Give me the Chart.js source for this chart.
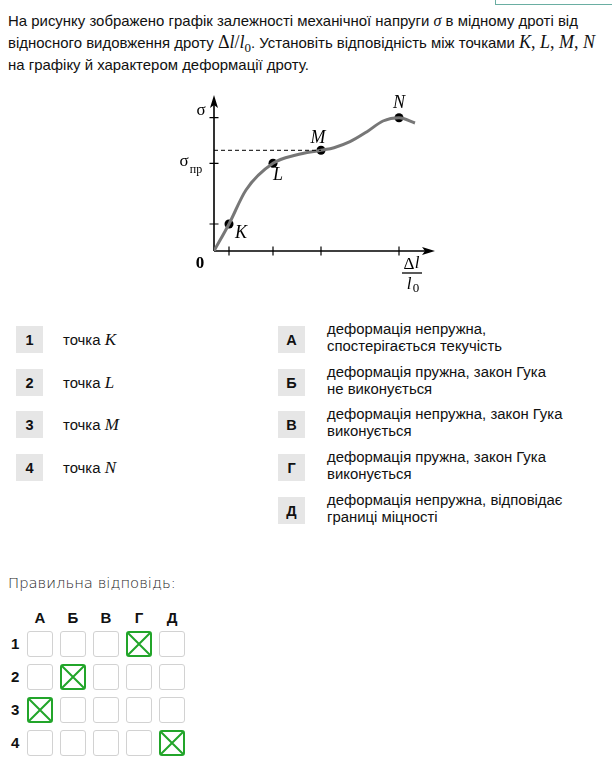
<!DOCTYPE html>
<html>
<head>
<meta charset="utf-8">
<script src="https://cdn.jsdelivr.net/npm/chart.js@4.4.1/dist/chart.umd.min.js"></script>
<style>
  body { margin: 0; width: 612px; height: 765px; background: #fff; position: relative; overflow: hidden;
         font-family: "Liberation Sans", Arial, sans-serif; color: #111; }
  .corner { position: absolute; left: 495px; top: -2px; width: 130px; height: 5px; border: 1px solid #6aaea2; }
  .task { position: absolute; left: 8px; top: 10px; font-size: 14.95px; line-height: 22px; white-space: nowrap; }
  .m { font-family: "Liberation Serif", "DejaVu Serif", serif; font-size: 18px; line-height: 1; }
  .mi { font-family: "Liberation Serif", "DejaVu Serif", serif; font-style: italic; font-size: 18px; line-height: 1; }
  .sub { font-size: 13px; position: relative; top: 4px; }
  #wrap { position: absolute; left: 170px; top: 80px; width: 280px; height: 220px; }
  .box { position: absolute; width: 27px; height: 27px; background: #e6e6e6; font-weight: bold; font-size: 14.5px;
         display: flex; align-items: center; justify-content: center; }
  .lt { position: absolute; font-size: 14.9px; line-height: 17px; white-space: nowrap; }
  .ans { position: absolute; left: 8px; top: 574px; font-family: "DejaVu Sans", sans-serif; font-weight: 200;
         font-size: 14.8px; color: #1e1e1e; }
  .gh { position: absolute; font-weight: bold; font-size: 15px; text-align: center; width: 26px; }
  .gr { position: absolute; font-weight: bold; font-size: 15px; }
  .cell { position: absolute; width: 24px; height: 24px; border: 1px solid #d2d2d2; border-radius: 3px; box-sizing: content-box; }
  .cell.on { border: 2px solid #22a52a; width: 22px; height: 22px; }
  .cell svg { position: absolute; left: 0; top: 0; }
</style>
</head>
<body>
<div class="corner"></div>
<div class="task">
  На рисунку зображено графік залежності механічної напруги <span class="mi" style="font-size:16px">σ</span> в мідному дроті від<br>
  відносного видовження дроту <span class="m">Δ<i>l</i>/<i>l</i><span class="sub">0</span></span>. Установіть відповідність між точками <span class="mi">K</span><span class="m">, </span><span class="mi">L</span><span class="m">, </span><span class="mi">M</span><span class="m">, </span><span class="mi">N</span><br>
  на графіку й характером деформації дроту.
</div>

<div id="wrap"><canvas id="chart" width="280" height="220"></canvas></div>

<div id="lists"></div>
<div class="ans">Правильна відповідь:</div>
<div id="grid"></div>

<script>
// curve sigma(dl/l0), units: 10 px per unit on both axes
const curveX = [0, 1.5, 3.2, 5.9, 8.2, 10.7, 12.0, 13.6, 15.3, 16.9, 18.5, 20.1];
const curveY = [0, 2.7, 6.1, 8.77, 9.6, 10.07, 10.33, 10.93, 11.93, 13.0, 13.33, 12.8];

const pointNames = ['K', 'L', 'M', 'N'];
const pointX = [1.5, 5.9, 10.7, 18.5];
const pointY = [2.7, 8.77, 10.07, 13.33];

const leftItems = ['K', 'L', 'M', 'N'];
const rightLetters = ['А', 'Б', 'В', 'Г', 'Д'];
const rightItems = [
  ['деформація непружна,', 'спостерігається текучість'],
  ['деформація пружна, закон Гука', 'не виконується'],
  ['деформація непружна, закон Гука', 'виконується'],
  ['деформація пружна, закон Гука', 'виконується'],
  ['деформація непружна, відповідає', 'границі міцності']
];
const answers = [3, 1, 0, 4]; // column index per row

// matching lists
const lists = document.getElementById('lists');
const rowTops = [326, 369, 411, 454, 497];
leftItems.forEach((p, i) => {
  lists.insertAdjacentHTML('beforeend',
    `<div class="box" style="left:16px;top:${rowTops[i]}px">${i + 1}</div>
     <div class="lt" style="left:63px;top:${rowTops[i] + 5}px">точка <span class="mi" style="font-size:17px;line-height:17px">${p}</span></div>`);
});
rightLetters.forEach((l, i) => {
  lists.insertAdjacentHTML('beforeend',
    `<div class="box" style="left:278px;top:${rowTops[i]}px">${l}</div>
     <div class="lt" style="left:327px;top:${rowTops[i] - 5}px">${rightItems[i][0]}<br>${rightItems[i][1]}</div>`);
});

// answer grid
const grid = document.getElementById('grid');
const colLeft = [27, 60, 93, 126, 159];
const gridTops = [631, 664, 697, 730];
rightLetters.forEach((l, j) => {
  grid.insertAdjacentHTML('beforeend', `<div class="gh" style="left:${colLeft[j]}px;top:609px">${l}</div>`);
});
gridTops.forEach((t, i) => {
  grid.insertAdjacentHTML('beforeend', `<div class="gr" style="left:11px;top:${t + 4}px">${i + 1}</div>`);
  colLeft.forEach((x, j) => {
    const on = answers[i] === j;
    grid.insertAdjacentHTML('beforeend',
      `<div class="cell${on ? ' on' : ''}" style="left:${x}px;top:${t}px">${on ?
        '<svg width="22" height="22"><path d="M0 0L22 22M22 0L0 22" stroke="#22a52a" stroke-width="2"/></svg>' : ''}</div>`);
  });
});

// axes, arrows, ticks and labels
const axesPlugin = {
  id: 'axes',
  beforeDatasetsDraw(chart) {
    const { ctx, scales: { x, y } } = chart;
    const x0 = x.getPixelForValue(0), y0 = y.getPixelForValue(0);
    const xe = x.getPixelForValue(22.1), ye = y.getPixelForValue(15.6);
    ctx.save();
    ctx.strokeStyle = '#000';
    ctx.fillStyle = '#000';
    ctx.lineWidth = 1.6;
    ctx.beginPath();
    ctx.moveTo(x0, y0); ctx.lineTo(xe - 4, y0);
    ctx.moveTo(x0, y0); ctx.lineTo(x0, ye + 4);
    ctx.stroke();
    // arrow heads
    ctx.beginPath();
    ctx.moveTo(xe, y0); ctx.lineTo(xe - 13, y0 - 4); ctx.lineTo(xe - 10, y0); ctx.lineTo(xe - 13, y0 + 4); ctx.closePath();
    ctx.fill();
    ctx.beginPath();
    ctx.moveTo(x0, ye); ctx.lineTo(x0 - 4, ye + 13); ctx.lineTo(x0, ye + 10); ctx.lineTo(x0 + 4, ye + 13); ctx.closePath();
    ctx.fill();
    // ticks
    ctx.lineWidth = 1.2;
    ctx.beginPath();
    pointX.forEach(v => { const px = x.getPixelForValue(v); ctx.moveTo(px, y0 - 4.5); ctx.lineTo(px, y0 + 4.5); });
    [pointY[0], pointY[1], pointY[3]].forEach(v => { const py = y.getPixelForValue(v); ctx.moveTo(x0 - 4.5, py); ctx.lineTo(x0 + 4.5, py); });
    ctx.stroke();
    ctx.restore();
  },
  afterDatasetsDraw(chart) {
    const { ctx, scales: { x, y } } = chart;
    const x0 = x.getPixelForValue(0), y0 = y.getPixelForValue(0);
    ctx.save();
    ctx.fillStyle = '#000';
    ctx.textAlign = 'center';
    ctx.textBaseline = 'middle';
    ctx.font = 'italic 18px "Liberation Serif", serif';
    const offs = [[12, 9], [5, 12], [-3, -12], [0, -14]];
    pointNames.forEach((n, i) => {
      ctx.fillText(n, x.getPixelForValue(pointX[i]) + offs[i][0], y.getPixelForValue(pointY[i]) + offs[i][1]);
    });
    ctx.font = '17px "Liberation Serif", serif';
    ctx.fillText('σ', x0 - 13, y.getPixelForValue(pointY[3]) - 7);
    ctx.fillText('σ', x0 - 30, y.getPixelForValue(pointY[1]) - 2);
    ctx.font = '12px "Liberation Serif", serif';
    ctx.fillText('пр', x0 - 18, y.getPixelForValue(pointY[1]) + 7);
    ctx.font = 'bold 17px "Liberation Serif", serif';
    ctx.fillText('0', x0 - 14, y0 + 13);
    // dl / l0
    const fx = x.getPixelForValue(19.8);
    ctx.font = '17px "Liberation Serif", serif';
    ctx.fillText('Δ', fx - 3, y0 + 14);
    ctx.font = 'italic 17px "Liberation Serif", serif';
    ctx.fillText('l', fx + 5, y0 + 13);
    ctx.fillText('l', fx - 3, y0 + 34);
    ctx.font = '13px "Liberation Serif", serif';
    ctx.fillText('0', fx + 4, y0 + 38);
    ctx.lineWidth = 1.3;
    ctx.beginPath(); ctx.moveTo(fx - 10, y0 + 22); ctx.lineTo(fx + 10, y0 + 22); ctx.stroke();
    ctx.restore();
  }
};

new Chart(document.getElementById('chart'), {
  type: 'scatter',
  data: {
    datasets: [
      {
        data: [{ x: 0, y: pointY[2] }, { x: pointX[2], y: pointY[2] }],
        showLine: true, borderColor: '#000', borderWidth: 1, borderDash: [4, 3], pointRadius: 0
      },
      {
        data: curveX.map((v, i) => ({ x: v, y: curveY[i] })),
        showLine: true, borderColor: '#777', borderWidth: 3, cubicInterpolationMode: 'monotone', pointRadius: 0
      },
      {
        data: pointX.map((v, i) => ({ x: v, y: pointY[i] })),
        pointRadius: 4.5, pointBackgroundColor: '#000', pointBorderWidth: 0
      }
    ]
  },
  options: {
    responsive: false,
    animation: false,
    layout: { padding: { left: 44, right: 16, top: 11, bottom: 49 } },
    plugins: { legend: { display: false }, tooltip: { enabled: false } },
    scales: {
      x: { type: 'linear', min: 0, max: 22, display: false },
      y: { type: 'linear', min: 0, max: 16, display: false }
    }
  },
  plugins: [axesPlugin]
});
</script>
</body>
</html>
